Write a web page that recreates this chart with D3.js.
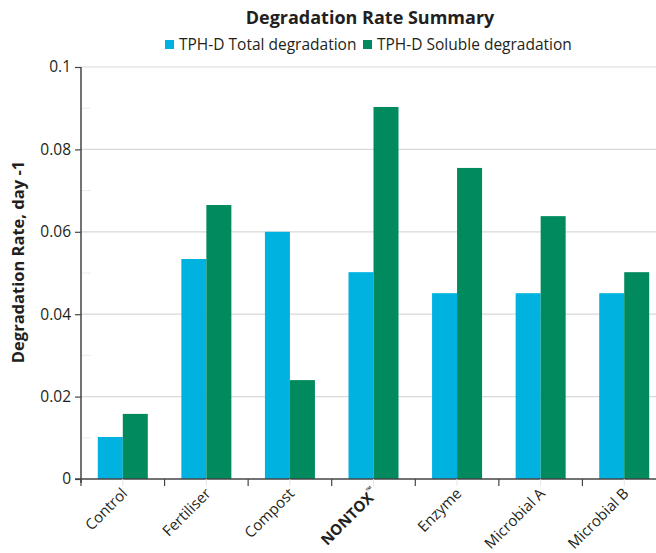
<!DOCTYPE html>
<html><head><meta charset="utf-8">
<script src="https://cdn.jsdelivr.net/npm/d3@7"></script>
<style>body{margin:0;background:#fff}svg{display:block}text{font-family:"Open Sans",sans-serif;fill:#231f20}</style>
</head><body><svg id="c" width="656" height="553"></svg>
<script>
const categories = ["Control","Fertiliser","Compost","NONTOX","Enzyme","Microbial A","Microbial B"];
const seriesNames = ["TPH-D Total degradation","TPH-D Soluble degradation"];
const totalDeg = [0.0102,0.0534,0.0600,0.0502,0.0451,0.0451,0.0451];
const solubleDeg = [0.0158,0.0665,0.0240,0.0903,0.0755,0.0638,0.0502];
const yTicks = [0,0.02,0.04,0.06,0.08,0.1];
const yMinor = [0.01,0.03,0.05,0.07,0.09];
const colors = ["#00b2e0","#008a5e"];

(function(){
const svg = d3.select("#c");
const pL = 81, pR = 666, pT = 67, pB = 479;
const x = d3.scaleBand().domain(categories).range([pL, pR]).paddingInner(0).paddingOuter(0);
const xs = d3.scaleBand().domain([0,1]).range([0, 50]);
const y = d3.scaleLinear().domain([0, 0.1]).range([pB, pT]);
const groupOffset = (x.bandwidth() - 50) / 2;

// gridlines
svg.append("g").selectAll("line").data(yTicks.slice(1)).join("line")
  .attr("x1", pL).attr("x2", 656).attr("y1", d=>y(d)).attr("y2", d=>y(d))
  .attr("stroke", "#d9d9d9").attr("stroke-width", 1.2);
svg.append("g").selectAll("line").data(yMinor).join("line")
  .attr("x1", pL).attr("x2", pL+10).attr("y1", d=>y(d)).attr("y2", d=>y(d))
  .attr("stroke", "#ececec").attr("stroke-width", 1);

// bars
const series = [totalDeg, solubleDeg];
series.forEach((vals, si) => {
  svg.append("g").selectAll("rect").data(categories).join("rect")
    .attr("x", (c) => x(c) + groupOffset + xs(si))
    .attr("width", xs.bandwidth())
    .attr("y", (c, i) => y(vals[i]))
    .attr("height", (c, i) => pB - y(vals[i]))
    .attr("fill", colors[si]);
});

// y axis
const yAxis = d3.axisLeft(y).tickValues(yTicks).tickFormat(d => d === 0 ? "0" : String(+d.toFixed(2))).tickSize(6).tickPadding(4);
const gy = svg.append("g").attr("transform", `translate(${pL},0)`).call(yAxis);
gy.select(".domain").attr("stroke", "#444").attr("stroke-width", 1.5).attr("d", `M0,${pT}V${pB+4}`);
gy.selectAll(".tick line").attr("stroke", "#444").attr("stroke-width", 1.2);
gy.selectAll(".tick text").style("font-family", '"Open Sans",sans-serif').style("font-size", "15.5px").attr("fill", "#231f20");

// x axis
svg.append("line").attr("x1", pL-6).attr("x2", 656).attr("y1", pB).attr("y2", pB).attr("stroke", "#444").attr("stroke-width", 1.5);
svg.append("g").selectAll("line").data(categories).join("line")
  .attr("x1", c => x(c)).attr("x2", c => x(c)).attr("y1", pB).attr("y2", pB+7)
  .attr("stroke", "#444").attr("stroke-width", 1.2);
svg.append("g").selectAll("line").data(categories).join("line")
  .attr("x1", c => x(c)+x.bandwidth()/2).attr("x2", c => x(c)+x.bandwidth()/2).attr("y1", pB).attr("y2", pB+7)
  .attr("stroke", "#e6e6e6").attr("stroke-width", 1);

// x labels
const xl = svg.append("g").selectAll("text").data(categories).join("text")
  .attr("transform", c => `translate(${x(c)+x.bandwidth()/2-2},${pB+8}) rotate(-45)`)
  .attr("text-anchor", "end").attr("dy", "0.7em")
  .style("font-size", "15px");
xl.each(function(c){
  const t = d3.select(this);
  if (c === "NONTOX") {
    t.append("tspan").text("NONTOX").style("font-weight", "bold");
    t.append("tspan").text("™").style("font-weight","bold").style("font-size","8px").attr("dy","-0.9em");
  } else t.text(c);
});

// y label
svg.append("text").attr("transform", "translate(24,262) rotate(-90)").attr("text-anchor","middle")
  .style("font-size","16.5px").style("font-weight","bold").text("Degradation Rate, day -1");

// title
svg.append("text").attr("x", 370).attr("y", 24).attr("text-anchor","middle")
  .style("font-size","18px").style("font-weight","bold").text("Degradation Rate Summary");

// legend
const legX = [165, 363];
seriesNames.forEach((n, i) => {
  svg.append("rect").attr("x", legX[i]).attr("y", 40).attr("width", 9).attr("height", 9).attr("fill", colors[i]);
  svg.append("text").attr("x", legX[i]+14).attr("y", 50).style("font-size","15.5px").text(n);
});
})();
</script></body></html>
